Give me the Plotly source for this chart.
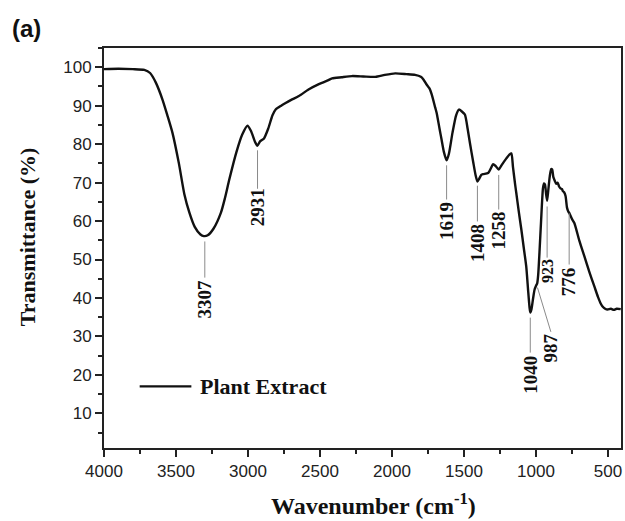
import plotly.graph_objects as go

# ---- data ----
wavenumber = [4000, 3900, 3800, 3720, 3680, 3640, 3594, 3560, 3525, 3480, 3442, 3407, 3370,
              3330, 3307, 3280, 3240, 3188, 3160, 3130, 3080, 3040, 3004, 2980, 2950, 2935,
              2915, 2889, 2860, 2830, 2808, 2770, 2739, 2700, 2647, 2580, 2508, 2450, 2416,
              2350, 2278, 2200, 2116, 2050, 1978, 1900, 1840, 1800, 1782, 1760, 1740, 1725,
              1700, 1690, 1670, 1656, 1640, 1621, 1605, 1580, 1555, 1535, 1515, 1494, 1475,
              1459, 1436, 1420, 1407, 1395, 1380, 1367, 1333, 1310, 1298, 1280, 1259, 1240,
              1206, 1185, 1171, 1160, 1145, 1137, 1120, 1102, 1085, 1068, 1055, 1045, 1040,
              1032, 1020, 1010, 1000, 992, 985, 975, 965, 952, 945, 938, 930, 923, 915, 905,
              895, 888, 880, 870, 860, 850, 840, 830, 820, 814, 805, 795, 785, 776, 768, 750,
              734, 700, 664, 630, 595, 570, 550, 538, 520, 503, 480, 460, 440, 412]
transmittance = [99.5, 99.6, 99.5, 99.3, 98.5, 96.0, 91.6, 87.5, 83.0, 75.0, 67.0, 62.2, 58.5,
                 56.5, 56.1, 56.3, 58.0, 62.2, 66.0, 70.8, 78.0, 82.5, 84.8, 83.5, 80.5, 79.6,
                 80.8, 81.5, 84.0, 87.5, 89.0, 90.0, 90.7, 91.5, 92.5, 94.2, 95.6, 96.5, 97.1,
                 97.4, 97.7, 97.6, 97.5, 98.0, 98.4, 98.2, 98.0, 97.5, 96.8, 95.5, 94.5, 93.0,
                 89.5, 88.1, 84.0, 81.2, 78.0, 75.8, 77.5, 83.0, 87.5, 89.0, 88.5, 87.7, 84.0,
                 80.3, 75.3, 72.0, 70.3, 71.0, 72.0, 72.2, 72.5, 74.0, 74.8, 74.3, 73.4, 74.5,
                 76.3, 77.3, 77.6, 74.0, 69.5, 67.3, 62.5, 57.8, 53.0, 48.2, 42.0, 37.5, 36.2,
                 37.0, 40.0, 42.2, 43.2, 43.8, 46.0, 52.6, 60.0, 68.5, 69.8, 69.5, 67.0, 65.3,
                 68.0, 71.5, 73.5, 73.4, 71.5, 70.5, 69.7, 70.0, 69.0, 68.5, 68.3, 67.8, 67.5,
                 66.5, 63.5, 62.5, 62.0, 60.5, 59.5, 55.0, 50.8, 46.8, 43.0, 40.3, 38.5, 37.8,
                 37.2, 37.0, 37.2, 36.9, 37.2, 37.1]

# peak labels
peak_labels = ["3307", "2931", "1619", "1408", "1258", "1040", "987", "923", "776"]
peak_x      = [3300, 2934, 1621, 1407, 1259, 1040, 990, 923, 770]
line_top    = [54.7, 78.4, 74.5, 69.2, 72.0, 34.9, 42.7, 63.8, 62.0]
line_bottom = [45.3, 68.4, 65.6, 59.9, 63.0, 25.8, 31.2, 50.5, 48.7]
label_x     = [3300, 2934, 1621, 1407, 1259, 1040, 897, 921, 772]
label_y     = [39.8, 63.5, 59.9, 54.4, 57.5, 20.1, 27.1, 47.1, 44.3]
label_size  = [19, 19, 19, 19, 19, 19, 19, 16, 19]

series_name = "Plant Extract"

fig = go.Figure()
fig.add_trace(go.Scatter(x=wavenumber, y=transmittance, mode="lines",
                         line=dict(color="#111111", width=2.4, shape="spline", smoothing=0.6),
                         name=series_name, showlegend=False))

# annotation leader lines + labels
for lab, px, t, b, lx, ly, fs in zip(peak_labels, peak_x, line_top, line_bottom,
                                     label_x, label_y, label_size):
    x1 = lx if lab == "987" else px
    fig.add_shape(type="line", x0=px, x1=x1, y0=t, y1=b, xref="x", yref="y",
                  line=dict(color="#8a8a8a", width=1))
    fig.add_annotation(x=lx, y=ly, xref="x", yref="y", text="<b>" + lab + "</b>", textangle=-90,
                       showarrow=False, xanchor="center", yanchor="middle",
                       font=dict(family="Liberation Serif", size=fs, color="#111111"))

# legend drawn manually (line sample + text)
fig.add_shape(type="line", xref="paper", yref="paper", x0=0.069, x1=0.169, y0=0.154, y1=0.154,
              line=dict(color="#111111", width=2.4))
fig.add_annotation(xref="paper", yref="paper", x=0.181, y=0.154, text="<b>" + series_name + "</b>",
                   showarrow=False, xanchor="left", yanchor="middle",
                   font=dict(family="Liberation Serif", size=22, color="#111111"))

# axis titles and panel tag
fig.add_annotation(xref="paper", yref="paper", x=0.522, y=-0.14,
                   text="<b>Wavenumber (cm<sup>-1</sup>)</b>", showarrow=False,
                   xanchor="center", yanchor="middle",
                   font=dict(family="Liberation Serif", size=24, color="#111111"))
fig.add_annotation(xref="paper", yref="paper", x=-0.148, y=0.528,
                   text="<b>Transmittance (%)</b>", textangle=-90, showarrow=False,
                   xanchor="center", yanchor="middle",
                   font=dict(family="Liberation Serif", size=22, color="#111111"))
fig.add_annotation(xref="paper", yref="paper", x=-0.149, y=1.048, text="<b>(a)</b>",
                   showarrow=False, xanchor="center", yanchor="middle",
                   font=dict(family="Liberation Sans", size=24, color="#111111"))

axis_common = dict(showline=True, linecolor="#222222", linewidth=2, mirror=True,
                   showgrid=False, zeroline=False, ticks="outside", tickcolor="#222222",
                   tickwidth=1.5, ticklen=7,
                   tickfont=dict(family="Liberation Sans", size=17, color="#222222"))

fig.update_xaxes(range=[4000, 410], tick0=0, dtick=500,
                 minor=dict(dtick=250, ticks="outside", ticklen=4, tickcolor="#222222", tickwidth=1.5),
                 **axis_common)
fig.update_yaxes(range=[1, 105], tick0=0, dtick=10,
                 minor=dict(dtick=5, ticks="outside", ticklen=4, tickcolor="#222222", tickwidth=1.5),
                 **axis_common)

fig.update_layout(width=625, height=521, margin=dict(l=104, r=2, t=48, b=73),
                  paper_bgcolor="white", plot_bgcolor="white", showlegend=False)

fig.write_html("out.html")
